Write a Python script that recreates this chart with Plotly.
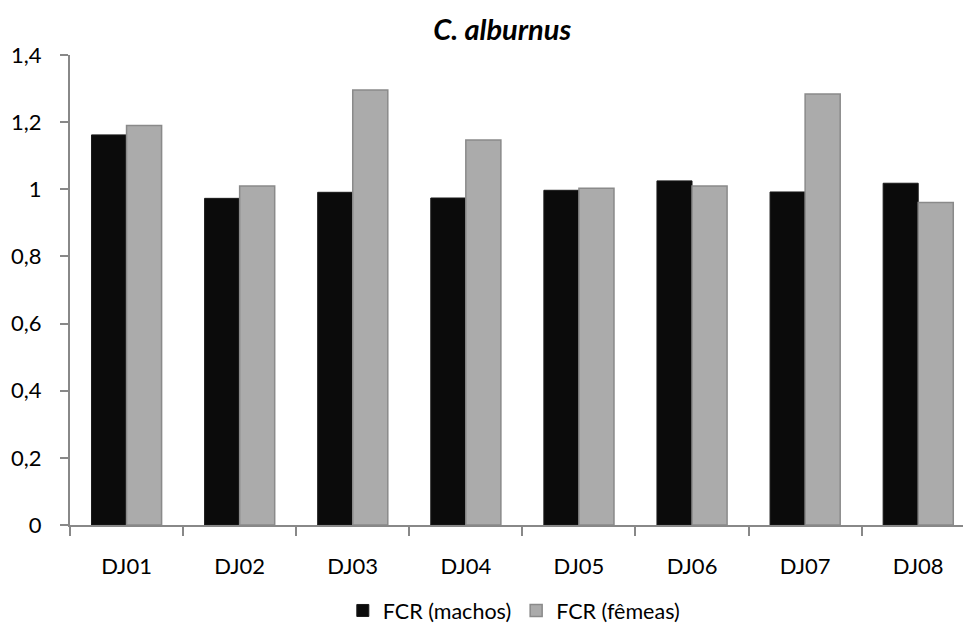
import plotly.graph_objects as go

categories = ["DJ01", "DJ02", "DJ03", "DJ04", "DJ05", "DJ06", "DJ07", "DJ08"]
machos = [1.162, 0.973, 0.991, 0.974, 0.997, 1.025, 0.992, 1.018]
femeas = [1.19, 1.01, 1.296, 1.147, 1.003, 1.01, 1.284, 0.961]
y_ticks = [0, 0.2, 0.4, 0.6, 0.8, 1.0, 1.2, 1.4]
y_labels = ["0", "0,2", "0,4", "0,6", "0,8", "1", "1,2", "1,4"]

FONT = "Lato"

fig = go.Figure()
fig.add_trace(go.Bar(
    x=categories, y=machos, name="FCR (machos)",
    marker=dict(color="#0b0b0b", line=dict(color="#1a1a1a", width=1)),
))
fig.add_trace(go.Bar(
    x=categories, y=femeas, name="FCR (fêmeas)",
    marker=dict(color="#ababab", line=dict(color="#8a8a8a", width=1.5)),
))

fig.update_layout(
    width=963, height=631,
    paper_bgcolor="white", plot_bgcolor="white",
    margin=dict(l=70, r=0, t=55, b=106),
    barmode="group", bargap=0.38, bargroupgap=0,
    font=dict(family=FONT, color="black", size=18),
    title=dict(text="<b><i>C. alburnus</i></b>", x=0.484, xref="paper",
               y=0.952, yref="container", xanchor="center", yanchor="middle",
               font=dict(size=29, family=FONT)),
    legend=dict(orientation="h", x=0.497, xanchor="center",
                yref="container", y=-0.013, yanchor="bottom",
                font=dict(size=21.5, family=FONT),
                itemwidth=30, traceorder="normal"),
    showlegend=True,
)
fig.update_xaxes(
    range=[-0.5, 7.396], showline=True, linecolor="#888888", linewidth=2,
    ticks="outside", ticklen=9, tickcolor="#888888", tickwidth=2,
    tickson="boundaries", showgrid=False, tickfont=dict(size=22),
    ticklabelstandoff=21,
)
fig.update_yaxes(
    range=[0, 1.4], tickvals=y_ticks, ticktext=y_labels,
    showline=True, linecolor="#888888", linewidth=2,
    ticks="outside", ticklen=8, tickcolor="#888888", tickwidth=2,
    showgrid=False, zeroline=False, tickfont=dict(size=22),
    ticklabelstandoff=14,
)

fig.write_html("out.html")
